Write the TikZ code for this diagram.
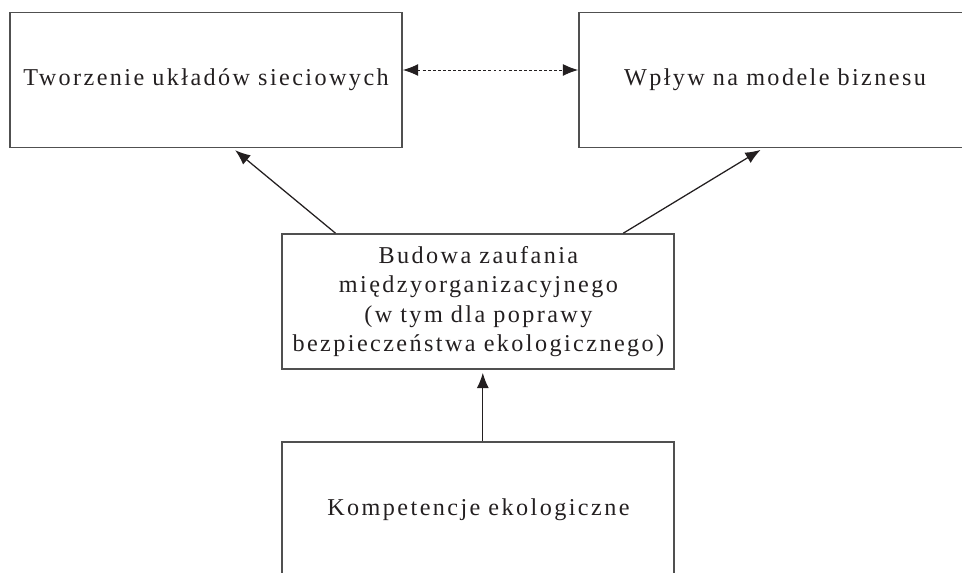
\documentclass[tikz,border=0pt]{standalone}
\usepackage{fontspec}
\setmainfont{Liberation Serif}[LetterSpace=10]
\usepackage{xcolor}
\usepackage{tikz}
\usetikzlibrary{arrows.meta}

\definecolor{framegray}{HTML}{505050}
\definecolor{inkblack}{HTML}{231F20}

\begin{document}
\begin{tikzpicture}[
    box/.style={rectangle, draw=framegray, line width=1.3pt, text=inkblack, text width=9.3cm, text centered, inner sep=0.25cm, minimum height=3.375cm, font=\fontsize{17.2}{20.8}\selectfont},
    arrow/.style={-{Latex[length=3.8mm, width=3mm]}, line width=0.9pt, draw=inkblack},
    twoway/.style={{Latex[length=3.8mm, width=3mm]}-{Latex[length=3.8mm, width=3mm]}, line width=0.7pt, dash pattern=on 2pt off 1.6pt, draw=inkblack}
]
    \useasboundingbox (0,0) rectangle (24.05,-14.325);

    \node[box] (sieci) at (5.15,-2.0) {Tworzenie układów sieciowych};
    \node[box] (biznes) at (19.375,-2.0) {Wpływ na modele biznesu};
    \node[box] (zaufanie) at (11.96,-7.54) {Budowa zaufania \\ międzyorganizacyjnego \\ (w tym dla poprawy \\ bezpieczeństwa ekologicznego)};
    \node[box] (kompetencje) at (11.96,-12.74) {Kompetencje ekologiczne};

    \draw[twoway] ([yshift=0.25cm]sieci.east) -- ([yshift=0.25cm]biznes.west);
    \draw[arrow, shorten >=2pt] ([xshift=1.35cm]zaufanie.north west) -- ([xshift=0.675cm]sieci.south);
    \draw[arrow, shorten >=2pt] ([xshift=-1.3cm]zaufanie.north east) -- ([xshift=-0.3cm]biznes.south);
    \draw[arrow, shorten >=2pt] ([xshift=0.11cm]kompetencje.north) -- ([xshift=0.11cm]zaufanie.south);
\end{tikzpicture}
\end{document}
